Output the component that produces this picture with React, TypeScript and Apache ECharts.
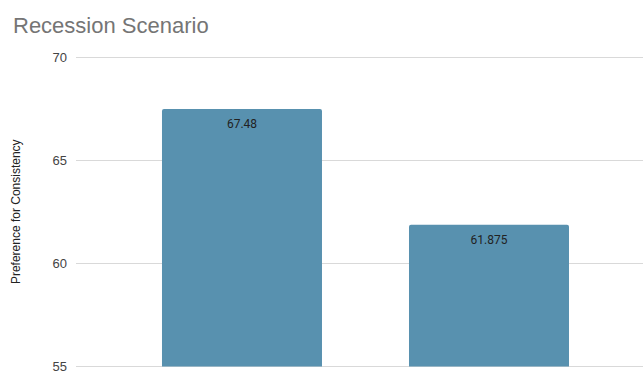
import React, { useEffect, useRef } from "react";
import * as echarts from "echarts";

const title = "Recession Scenario";
const yAxisName = "Preference for Consistency";
const barPositions = [1, 2];
const barValues = [67.48, 61.875];
const yTicks = { min: 55, max: 70, interval: 5 };

export default function App() {
  const ref = useRef<HTMLDivElement>(null);
  useEffect(() => {
    const chart = echarts.init(ref.current!, null, { renderer: "svg" });
    chart.setOption({
      animation: false,
      backgroundColor: "#ffffff",
      title: {
        text: title,
        left: 8,
        top: 9,
        textStyle: {
          fontFamily: "Liberation Sans, Arial, sans-serif",
          fontSize: 22,
          fontWeight: "normal",
          color: "#757575",
        },
      },
      grid: { left: 76, right: 0, top: 57, bottom: 2, containLabel: false },
      xAxis: {
        type: "value",
        min: 0.328,
        max: 2.6235,
        show: false,
        splitLine: { show: false },
      },
      yAxis: {
        type: "value",
        min: yTicks.min,
        max: yTicks.max,
        interval: yTicks.interval,
        name: yAxisName,
        nameLocation: "middle",
        nameGap: 54,
        nameTextStyle: {
          fontFamily: "Liberation Sans, Arial, sans-serif",
          fontSize: 12,
          color: "#222222",
        },
        axisLine: { show: false },
        axisTick: { show: false },
        axisLabel: {
          margin: 9,
          fontFamily: "Liberation Sans, Arial, sans-serif",
          fontSize: 13,
          color: "#444444",
        },
        splitLine: { lineStyle: { color: "#d9d9d9", width: 1 } },
      },
      series: [
        {
          type: "bar",
          data: barPositions.map((p, i) => [p, barValues[i]]),
          barWidth: 160,
          itemStyle: { color: "#5891af", borderRadius: [2, 2, 0, 0] },
          label: {
            show: true,
            position: "insideTop",
            distance: 9,
            fontFamily: "Roboto, sans-serif",
            fontSize: 12,
            color: "#222222",
            formatter: (p: any) => String(p.value[1]),
          },
        },
      ],
    });
    return () => chart.dispose();
  }, []);
  return (
    <div
      ref={ref}
      style={{ position: "fixed", left: 0, top: 0, width: 643, height: 373 }}
    />
  );
}
